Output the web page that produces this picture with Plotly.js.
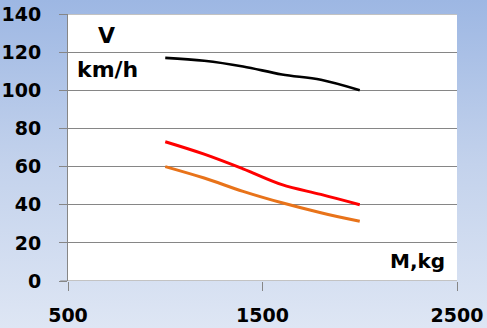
<!DOCTYPE html>
<html>
<head>
<meta charset="utf-8">
<script src="https://cdn.plot.ly/plotly-3.0.1.min.js"></script>
<style>
html,body{margin:0;padding:0;}
body{width:487px;height:328px;overflow:hidden;background:linear-gradient(to bottom,#9db7e3 0%,#c3d2ec 50%,#dee6f4 100%);}
#chart{width:487px;height:328px;}
</style>
</head>
<body>
<div id="chart"></div>
<script>
var massKg = [1000, 1200, 1400, 1600, 1800, 2000];
var speedBlack = [117, 115.5, 112.5, 108.3, 105.5, 100];
var speedRed = [73, 66.5, 58.8, 50.5, 45.4, 40];
var speedOrange = [60, 54, 47, 41, 35.8, 31.3];
var xTicks = [500, 1500, 2500];
var yTicks = [0, 20, 40, 60, 80, 100, 120, 140];

function series(y, color, w) {
  return {x: massKg, y: y, type: "scatter", mode: "lines",
    line: {color: color, width: w, shape: "spline", smoothing: 1.0},
    hoverinfo: "skip", showlegend: false};
}

var data = [
  series(speedBlack, "#000000", 2.6),
  series(speedRed, "#ff0000", 3),
  series(speedOrange, "#e8731a", 3)
];

var layout = {
  width: 487, height: 328,
  margin: {l: 68.3, r: 30.3, t: 13.7, b: 46.8, pad: 0},
  paper_bgcolor: "rgba(0,0,0,0)",
  plot_bgcolor: "#ffffff",
  showlegend: false,
  font: {family: "DejaVu Sans", color: "#000"},
  xaxis: {
    range: [500, 2500], tickvals: xTicks, ticktext: xTicks.map(String),
    showgrid: false, zeroline: false, showline: false,
    ticks: "outside", ticklen: 9, tickcolor: "#868686", tickwidth: 1,
    ticklabelstandoff: 8,
    tickfont: {family: "DejaVu Sans", size: 19, color: "#000", weight: "bold"},
    fixedrange: true
  },
  yaxis: {
    range: [0, 140], tickvals: yTicks, ticktext: yTicks.map(String),
    showgrid: true, gridcolor: "#868686", gridwidth: 1,
    zeroline: false, showline: true, linecolor: "#868686", linewidth: 1,
    ticks: "outside", ticklen: 8, tickcolor: "#868686", tickwidth: 1,
    ticklabelstandoff: 14,
    tickfont: {family: "DejaVu Sans", size: 19, color: "#000", weight: "bold"},
    fixedrange: true
  },
  shapes: [
    {type: "line", xref: "paper", yref: "y", x0: -0.02, x1: 1, y0: 0, y1: 0,
     line: {color: "#868686", width: 1}},
    {type: "line", xref: "paper", yref: "y", x0: -0.02, x1: 1, y0: 140, y1: 140,
     line: {color: "#868686", width: 1}}
  ],
  annotations: [
    {text: "<b>V</b>", xref: "paper", yref: "paper", x: (107-68.3)/388.4, y: (281-35)/267.3,
     xanchor: "center", yanchor: "middle", showarrow: false,
     font: {family: "DejaVu Sans", size: 22, color: "#000"}},
    {text: "<b>km/h</b>", xref: "paper", yref: "paper", x: (107.5-68.3)/388.4, y: (281-69)/267.3,
     xanchor: "center", yanchor: "middle", showarrow: false,
     font: {family: "DejaVu Sans", size: 22, color: "#000"}},
    {text: "<b>M,kg</b>", xref: "paper", yref: "paper", x: (417-68.3)/388.4, y: (281-261)/267.3,
     xanchor: "center", yanchor: "middle", showarrow: false,
     font: {family: "DejaVu Sans", size: 20, color: "#000"}}
  ]
};

Plotly.newPlot("chart", data, layout, {displayModeBar: false, staticPlot: true});
</script>
</body>
</html>
